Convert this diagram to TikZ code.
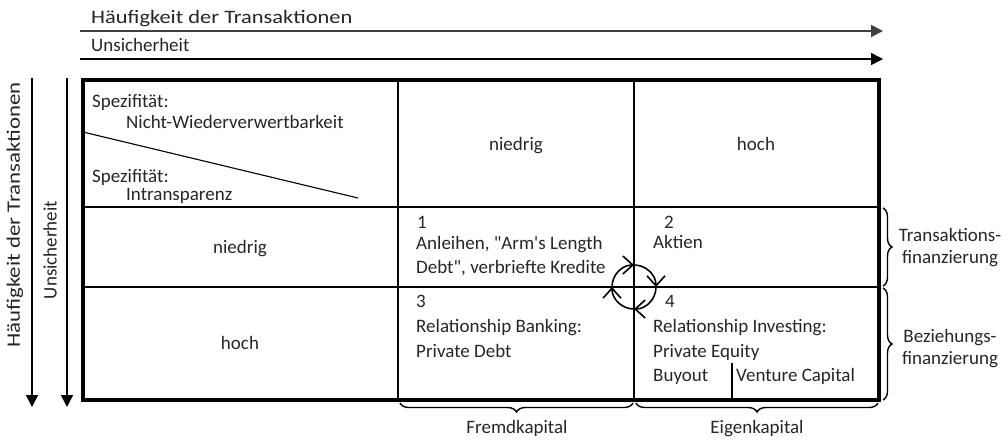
\documentclass[tikz,border=0pt]{standalone}
\usepackage{fontspec}
\newfontfamily\cf{Carlito}
\usetikzlibrary{arrows.meta,decorations.pathreplacing}
\begin{document}
\begin{tikzpicture}[x=1pt,y=1pt,
  txt/.style={font=\cf\fontsize{19}{23}\selectfont, inner sep=0pt, anchor=base west, text=black!85},
  ctxt/.style={font=\cf\fontsize{19}{23}\selectfont, inner sep=0pt, anchor=base, text=black!85},
  vtxt/.style={font=\cf\fontsize{19}{23}\selectfont, inner sep=0pt, rotate=90, text=black!85},
  axis/.style={line width=1.5pt, -{Triangle[length=12pt,width=12pt]}},
  outer/.style={line width=4pt},
  inner/.style={line width=2.2pt},
  thin/.style={line width=1.1pt},
  cyc/.style={line width=1.6pt, -{Straight Barb[length=10pt,width=18pt]}},
  brc/.style={decorate, decoration={brace, amplitude=9pt}, line width=1.4pt},
  brcm/.style={decorate, decoration={brace, mirror, amplitude=9pt}, line width=1.4pt},
]
\useasboundingbox (0,0) rectangle (1007,-440);
% axis arrows
\coordinate (h1s) at (80,-31); \coordinate (h1e) at (883,-31);
\coordinate (h2s) at (80,-59); \coordinate (h2e) at (883,-59);
\coordinate (v1s) at (32,-78); \coordinate (v1e) at (32,-407);
\coordinate (v2s) at (67,-78); \coordinate (v2e) at (67,-407);
\draw[axis, draw=black!75, line width=2pt] (h1s) -- (h1e);
\draw[axis] (h2s) -- (h2e);
\draw[axis] (v1s) -- (v1e);
\draw[axis] (v2s) -- (v2e);
\node[txt] (th1) at (91,-23) {\scalebox{1.18}[1]{Häufigkeit der Transaktionen}};
\node[txt] (th2) at (91,-51) {Unsicherheit};
\node[vtxt] (tv1) at (15,-215) {\scalebox{1.2}[1]{Häufigkeit der Transaktionen}};
\node[vtxt] (tv2) at (50,-250) {Unsicherheit};
% table
\draw[inner] (83,-207) -- (879,-207);
\draw[inner] (83,-287) -- (879,-287);
\draw[inner] (398,-80) -- (398,-400);
\draw[inner] (634,-80) -- (634,-400);
\draw[outer] (83,-80) rectangle (879,-400);
\draw[thin] (83,-132) -- (358,-198);
\draw[thin] (732,-363) -- (732,-400);
% top-left cell
\node[txt] (s1) at (92,-107) {Spezifität:};
\node[txt] (s2) at (126,-128) {Nicht-Wiederverwertbarkeit};
\node[txt] (s3) at (92,-182) {Spezifität:};
\node[txt] (s4) at (126,-200) {Intransparenz};
% headers
\node[ctxt] (cn) at (516,-150) {niedrig};
\node[ctxt] (ch) at (756,-150) {hoch};
\node[ctxt] (rn) at (240,-253) {niedrig};
\node[ctxt] (rh) at (240,-349) {hoch};
% cell 1
\node[txt] (n1) at (417,-228) {1};
\node[txt] (a1) at (416,-249) {Anleihen, "Arm's Length};
\node[txt] (a2) at (416,-273) {Debt", verbriefte Kredite};
% cell 2
\node[txt] (n2) at (664,-228) {2};
\node[txt] (b1) at (653,-248) {Aktien};
% cell 3
\node[txt] (n3) at (416,-307) {3};
\node[txt] (c1) at (416,-332) {Relationship Banking:};
\node[txt] (c2) at (416,-357) {Private Debt};
% cell 4
\node[txt] (n4) at (665,-307) {4};
\node[txt] (d1) at (653,-332) {Relationship Investing:};
\node[txt] (d2) at (653,-357) {Private Equity};
\node[txt] (d3) at (653,-381) {Buyout};
\node[txt] (d4) at (736,-381) {Venture Capital};
% cycle
\coordinate (C) at (634,-287);
\draw[cyc] (C) ++(180:22) arc[start angle=180, end angle=90, radius=22];
\draw[cyc] (C) ++(90:22) arc[start angle=90, end angle=0, radius=22];
\draw[cyc] (C) ++(0:22) arc[start angle=0, end angle=-90, radius=22];
\draw[cyc] (C) ++(-90:22) arc[start angle=-90, end angle=-180, radius=22];
% braces
\draw[brc] (883,-208) -- (883,-286);
\draw[brc] (883,-288) -- (883,-400);
\draw[brcm] (400,-403) -- (633,-403);
\draw[brcm] (636,-403) -- (878,-403);
\node[ctxt] (r1) at (950,-241) {Transaktions-};
\node[ctxt] (r2) at (950,-263) {finanzierung};
\node[ctxt] (r3) at (950,-342) {Beziehungs-};
\node[ctxt] (r4) at (950,-364) {finanzierung};
\node[ctxt] (f1) at (517,-433) {Fremdkapital};
\node[ctxt] (f2) at (757,-433) {Eigenkapital};
\end{tikzpicture}
\end{document}
